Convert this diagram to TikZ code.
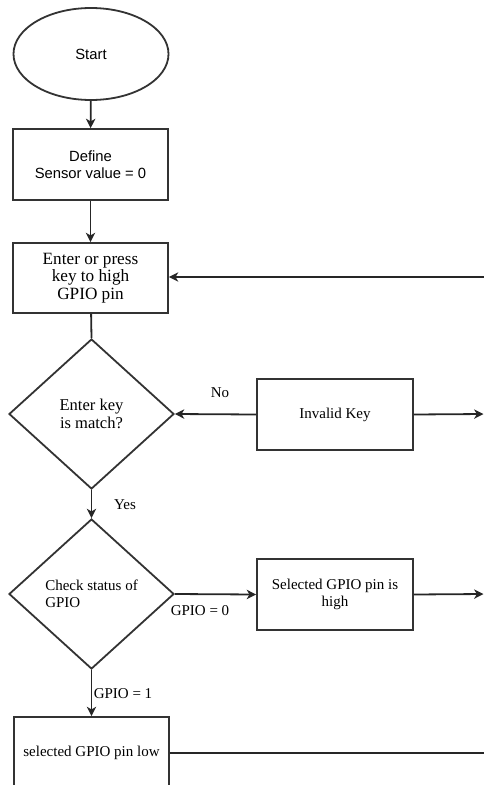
\documentclass[tikz,border=0pt]{standalone}
\usepackage{fontspec}
\setmainfont{Liberation Serif}
\newfontfamily\arialfont{Liberation Sans}
\usetikzlibrary{shapes.geometric,arrows.meta}
\begin{document}
\begin{tikzpicture}[x=0.75pt,y=-0.75pt,
  line width=1.35pt,
  serif/.style={font=\fontsize{11.25pt}{12.6pt}\selectfont},
  sans/.style={font=\arialfont\fontsize{11.1pt}{12.9pt}\selectfont},
  box/.style={draw=black!80, rectangle, minimum width=116.25pt, minimum height=53.25pt, inner sep=0pt, align=center},
  dec/.style={draw=black!80, diamond, minimum width=123.75pt, minimum height=112.5pt, inner sep=0pt},
  arr/.style={draw=black!85, -{Stealth[length=7pt,width=7pt,inset=2pt]}},
  lnk/.style={draw=black!85},
  lbl/.style={serif, inner sep=0pt}
]
\useasboundingbox (0,0) rectangle (484,785);
\clip (0,0) rectangle (484,785);

\node[draw=black!80, ellipse, minimum width=116.25pt, minimum height=69pt, inner sep=0pt, sans] (start) at (91,54) {Start};
\node[box, sans] (def) at (90.5,164.5) {Define\\Sensor value = 0};
\node[box, minimum height=52.5pt, font=\fontsize{12.9pt}{13.2pt}\selectfont] (enter) at (90.5,278) {Enter or press\\key to high\\GPIO pin};
\node[dec, align=center, font=\fontsize{12.4pt}{13.3pt}\selectfont] (d1) at (91.5,414) {Enter key\\is match?};
\node[box, serif, minimum width=117pt] (inv) at (335,414.5) {Invalid Key};
\node[dec, serif, align=left] (d2) at (91.5,594) {Check status of\\GPIO};
\node[box, serif, minimum width=117pt] (high) at (335,594.5) {Selected GPIO pin is\\high};
\node[box, serif, minimum height=54pt] (low) at (91.5,753) {selected GPIO pin low};

\coordinate (r1) at (484,277);
\coordinate (r2) at (483.5,414);
\coordinate (r3) at (483.5,594);
\coordinate (r4) at (485,753);

\draw[arr] (start) -- (def);
\draw[arr] (def) -- (enter);
\draw[lnk] (enter) -- (d1.north);
\draw[arr] (r1) -- (r1 -| enter.east);
\draw[arr] (inv.west) -- (d1.east);
\draw[arr] (inv.east) -- (r2);
\draw[arr] (d1.south) -- (d2.north);
\draw[arr] (d2.east) -- (high.west);
\draw[arr] (high.east) -- (r3);
\draw[arr] (d2.south) -- (low.north);
\draw[lnk] (low.east) -- (r4);

\node[lbl] (no) at (220,393) {No};
\node[lbl] (yes) at (125,505) {Yes};
\node[lbl] (g0) at (200,611) {GPIO = 0};
\node[lbl] (g1) at (123,694) {GPIO = 1};
\end{tikzpicture}
\end{document}
